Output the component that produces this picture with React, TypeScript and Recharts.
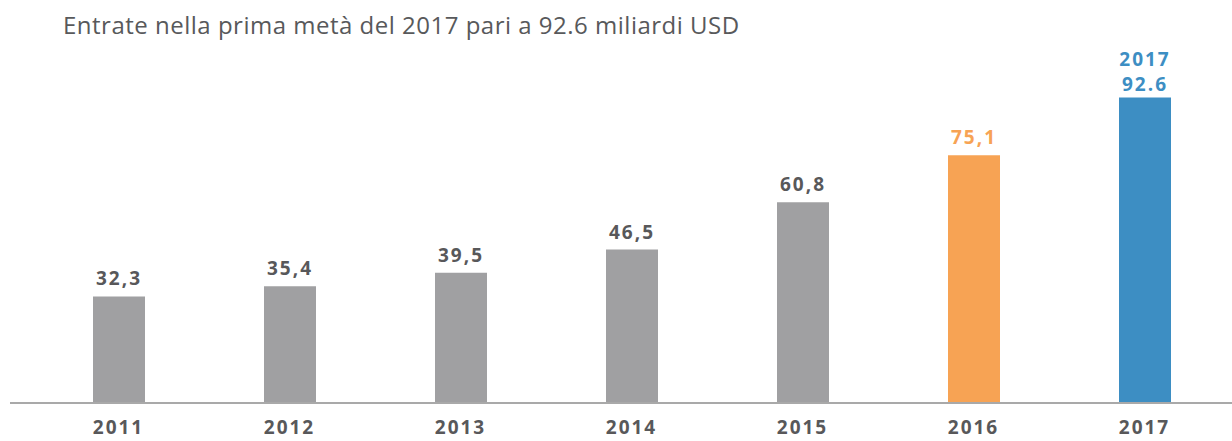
import React from "react";
import { BarChart, Bar, XAxis, YAxis, Cell, LabelList } from "recharts";

const years = ["2011", "2012", "2013", "2014", "2015", "2016", "2017"];
const values = [32.3, 35.4, 39.5, 46.5, 60.8, 75.1, 92.6];
const valueLabels = ["32,3", "35,4", "39,5", "46,5", "60,8", "75,1", "92.6"];
const barColors = ["#a0a0a2", "#a0a0a2", "#a0a0a2", "#a0a0a2", "#a0a0a2", "#f7a354", "#3d8ec3"];
const labelColors = ["#58585a", "#58585a", "#58585a", "#58585a", "#58585a", "#f7a354", "#3d8ec3"];

const title = "Entrate nella prima metà del 2017 pari a 92.6 miliardi USD";

const data = years.map((year, i) => ({ year, value: values[i] }));

const FONT = "'Open Sans', 'Noto Sans', sans-serif";

// value label above each bar; last bar also gets its year on top
const BarLabel = (props: any) => {
  const { x, y, width, index } = props;
  const cx = x + width / 2;
  const color = labelColors[index];
  const last = index === values.length - 1;
  return (
    <g>
      {last && (
        <text
          x={cx}
          y={y - 31}
          textAnchor="middle"
          fill={color}
          fontFamily={FONT}
          fontWeight={700}
          fontSize={19}
          letterSpacing={2}
        >
          {years[index]}
        </text>
      )}
      <text
        x={cx}
        y={y - (last ? 6 : 11)}
        textAnchor="middle"
        fill={color}
        fontFamily={FONT}
        fontWeight={700}
        fontSize={19}
        letterSpacing={2}
      >
        {valueLabels[index]}
      </text>
    </g>
  );
};

const YearTick = (props: any) => {
  const { x, y, payload } = props;
  return (
    <text
      x={x}
      y={y + 23}
      textAnchor="middle"
      fill="#58585a"
      fontFamily={FONT}
      fontWeight={700}
      fontSize={19}
      letterSpacing={2}
    >
      {payload.value}
    </text>
  );
};

export default function App() {
  return (
    <div style={{ position: "absolute", left: 0, top: 0, width: 1232, height: 441, background: "#fff" }}>
      <div
        style={{
          position: "absolute",
          left: 63,
          top: 8,
          fontFamily: FONT,
          fontSize: 24,
          letterSpacing: 0.5,
          color: "#58595b",
          whiteSpace: "nowrap",
        }}
      >
        {title}
      </div>
      <BarChart
        width={1232}
        height={441}
        data={data}
        margin={{ top: 73, right: 0, bottom: 0, left: 10 }}
      >
        <XAxis
          dataKey="year"
          height={38}
          padding={{ left: 23, right: 2 }}
          axisLine={{ stroke: "#a9a9a9", strokeWidth: 2 }}
          tickLine={false}
          tick={<YearTick />}
          interval={0}
        />
        <YAxis hide domain={[0, 100]} />
        <Bar dataKey="value" barSize={52} isAnimationActive={false}>
          {data.map((d, i) => (
            <Cell key={d.year} fill={barColors[i]} />
          ))}
          <LabelList dataKey="value" content={<BarLabel />} />
        </Bar>
      </BarChart>
    </div>
  );
}
